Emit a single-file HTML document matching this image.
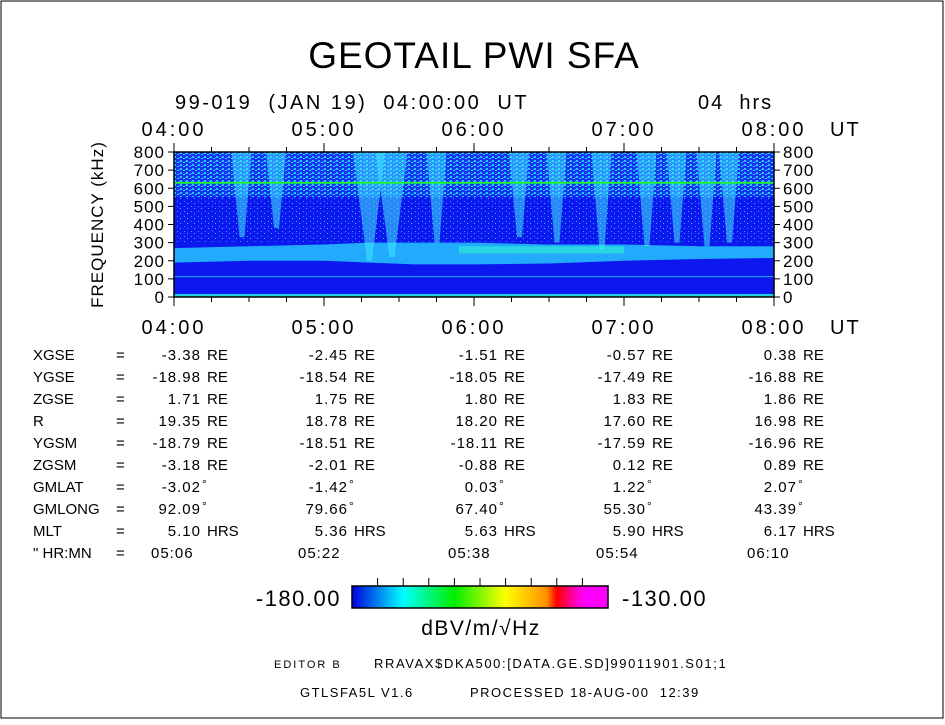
<!DOCTYPE html>
<html><head><meta charset="utf-8"><style>
body{margin:0;background:#fff}
svg text{font-family:"Liberation Sans",sans-serif;fill:#000}
</style></head><body>
<svg width="945" height="720">
<rect x="1" y="1" width="942" height="717" fill="#fff" stroke="#000"/>
<text x="474" y="68" font-size="37" text-anchor="middle" letter-spacing="1">GEOTAIL  PWI  SFA</text>
<text x="175" y="109" font-size="20" letter-spacing="2.5" xml:space="preserve">99-019  (JAN 19)  04:00:00  UT</text>
<text x="698" y="109" font-size="20" letter-spacing="2" xml:space="preserve">04  hrs</text>
<defs>
<pattern id="speck" width="6" height="4" patternUnits="userSpaceOnUse">
<rect width="6" height="4" fill="#1630f4"/><rect x="0" y="0" width="2" height="2" fill="#20c8ff"/><rect x="3" y="2" width="2" height="1" fill="#18e0ff"/><rect x="5" y="1" width="1" height="1" fill="#40a0ff"/>
</pattern>
<pattern id="speck2" width="7" height="5" patternUnits="userSpaceOnUse">
<rect width="7" height="5" fill="#0c18ee"/><rect x="2" y="1" width="1" height="1" fill="#20a0ff"/><rect x="5" y="3" width="1" height="1" fill="#20c0ff"/>
</pattern>
<linearGradient id="cbar" x1="0" x2="1">
<stop offset="0" stop-color="#0000e0"/><stop offset="0.2" stop-color="#00ffff"/><stop offset="0.4" stop-color="#00ee00"/><stop offset="0.6" stop-color="#ffff00"/><stop offset="0.76" stop-color="#ff9000"/><stop offset="0.8" stop-color="#ff0000"/><stop offset="0.88" stop-color="#ff00cc"/><stop offset="0.92" stop-color="#ff00ff"/><stop offset="1" stop-color="#ff00ff"/>
</linearGradient>
</defs>
<g id="spec"></g>
<g id="axes"></g>
<g id="table"></g>
<g>
<rect x="352" y="586" width="256" height="22" fill="url(#cbar)" stroke="#000" stroke-width="1.5"/>
<g id="cticks"></g>
<text x="341" y="606" font-size="22" text-anchor="end" letter-spacing="1.5">-180.00</text>
<text x="622" y="606" font-size="22" letter-spacing="1.5">-130.00</text>
<text x="481" y="635" font-size="21" text-anchor="middle" letter-spacing="1.5">dBV/m/√Hz</text>
</g>
<text x="274" y="668" font-size="11" letter-spacing="2">EDITOR B</text>
<text x="374" y="668" font-size="13" letter-spacing="1.6">RRAVAX$DKA500:[DATA.GE.SD]99011901.S01;1</text>
<text x="300" y="697" font-size="13" letter-spacing="1.5">GTLSFA5L V1.6</text>
<text x="470" y="697" font-size="13" letter-spacing="1.5" xml:space="preserve">PROCESSED 18-AUG-00  12:39</text>
</svg>
<script>
const NS="http://www.w3.org/2000/svg";
// data
const timeTicks=["04:00","05:00","06:00","07:00","08:00"];
const freqTicks=[0,100,200,300,400,500,600,700,800];
const burstTimes=[0.45,0.68,1.3,1.45,1.75,2.3,2.55,2.85,3.15,3.35,3.55,3.7];
const burstLowFreq=[330,380,200,220,300,330,300,260,280,300,280,300];
const bandTimes=[0,0.5,1.0,1.3,1.6,2.0,2.5,3.0,3.5,4.0];
const bandLow=[190,200,200,190,180,180,185,200,210,215];
const bandHigh=[270,280,290,300,300,300,290,290,280,280];
const lineFreq=630;
const rowLabels=["XGSE","YGSE","ZGSE","R","YGSM","ZGSM","GMLAT","GMLONG","MLT","\" HR:MN"];
const rowUnits=["RE","RE","RE","RE","RE","RE","°","°","HRS",""];
const rowValues=[
["-3.38","-2.45","-1.51","-0.57","0.38"],
["-18.98","-18.54","-18.05","-17.49","-16.88"],
["1.71","1.75","1.80","1.83","1.86"],
["19.35","18.78","18.20","17.60","16.98"],
["-18.79","-18.51","-18.11","-17.59","-16.96"],
["-3.18","-2.01","-0.88","0.12","0.89"],
["-3.02","-1.42","0.03","1.22","2.07"],
["92.09","79.66","67.40","55.30","43.39"],
["5.10","5.36","5.63","5.90","6.17"],
["05:06","05:22","05:38","05:54","06:10"]];
const X0=174,X1=774,Y0=297,Y1=152;
const xs=t=>X0+(X1-X0)*t/4;
const ys=f=>Y0+(Y1-Y0)*f/800;
function el(tag,attrs,parent){const e=document.createElementNS(NS,tag);for(const k in attrs)e.setAttribute(k,attrs[k]);parent.appendChild(e);return e;}
const spec=document.getElementById('spec');
let r=el('rect',{x:X0,y:Y1,width:X1-X0,height:Y0-Y1,fill:'#0c18ee'},spec);


r=el('rect',{x:X0,y:ys(800),width:X1-X0,height:ys(550)-ys(800),fill:'url(#speck)'},spec);


r=el('rect',{x:X0,y:ys(550),width:X1-X0,height:ys(300)-ys(550),fill:'url(#speck2)'},spec);


let pts=bandTimes.map((t,i)=>xs(t)+','+ys(bandHigh[i])).join(' ')+' '+bandTimes.slice().reverse().map((t,i)=>xs(t)+','+ys(bandLow[bandTimes.length-1-i])).join(' ');
let b=el('polygon',{points:pts,fill:'#28d0ff',opacity:0.8},spec);


let g=el('rect',{x:xs(1.9),y:ys(280),width:xs(3.0)-xs(1.9),height:ys(240)-ys(280),fill:'#30ffc8',opacity:0.5},spec);


burstTimes.forEach((t,i)=>{
 const x=xs(t),w=t>1.2&&t<1.5?16:10;
 const p=el('polygon',{points:`${x-w},${ys(800)} ${x+w},${ys(800)} ${x+3},${ys(burstLowFreq[i])} ${x-2},${ys(burstLowFreq[i])}`,fill:'#40e8ff',opacity:0.55},spec);
 
 
});
let hl=el('rect',{x:X0,y:ys(lineFreq)-1,width:X1-X0,height:2,fill:'#20f040'},spec);


let l1=el('rect',{x:X0,y:ys(115),width:X1-X0,height:1,fill:'#20b0ff'},spec);


let bt=el('rect',{x:X0,y:Y0-3,width:X1-X0,height:3,fill:'#20d0e0'},spec);


const ax=document.getElementById('axes');
el('rect',{x:X0,y:Y1,width:X1-X0,height:Y0-Y1,fill:'none',stroke:'#000','stroke-width':1.5},ax);
for(let k=0;k<=16;k++){const x=xs(k/4),len=k%4==0?9:5;
 el('line',{x1:x,x2:x,y1:Y1,y2:Y1-len,stroke:'#000'},ax);
 el('line',{x1:x,x2:x,y1:Y0,y2:Y0+len,stroke:'#000'},ax);}
timeTicks.forEach((s,i)=>{
 let t=el('text',{x:xs(i),y:136,'font-size':20,'text-anchor':'middle','letter-spacing':3},ax);t.textContent=s;
 
 
 t=el('text',{x:xs(i),y:334,'font-size':20,'text-anchor':'middle','letter-spacing':3},ax);t.textContent=s;
 
 
});
let u=el('text',{x:830,y:136,'font-size':20,'letter-spacing':2},ax);u.textContent='UT';


u=el('text',{x:830,y:334,'font-size':20,'letter-spacing':2},ax);u.textContent='UT';


freqTicks.forEach(f=>{const y=ys(f);
 el('line',{x1:X0,x2:X0-6,y1:y,y2:y,stroke:'#000'},ax);
 el('line',{x1:X1,x2:X1+6,y1:y,y2:y,stroke:'#000'},ax);
 let t=el('text',{x:X0-9,y:y+6,'font-size':17,'text-anchor':'end','letter-spacing':1},ax);t.textContent=f;
 
 
 t=el('text',{x:X1+9,y:y+6,'font-size':17,'letter-spacing':1},ax);t.textContent=f;
 
 
});
let yt=el('text',{x:0,y:0,'font-size':17,'text-anchor':'middle','letter-spacing':1,transform:`translate(103,${(Y0+Y1)/2}) rotate(-90)`},ax);yt.textContent='FREQUENCY  (kHz)';


const ct=document.getElementById('cticks');
for(let k=1;k<10;k++){const x=352+256*k/10;el('line',{x1:x,x2:x,y1:586,y2:578,stroke:'#000'},ct);}
const tb=document.getElementById('table');
const colR=[201,348,498,646,797];
rowLabels.forEach((lab,i)=>{const y=360+i*22;
 let t=el('text',{x:33,y:y,'font-size':15},tb);t.textContent=lab;
 
 
 t=el('text',{x:116,y:y,'font-size':15},tb);t.textContent='=';
 
 
 rowValues[i].forEach((v,j)=>{
  const isTime=i==9;
  const tx=el('text',{x:isTime?colR[j]-50:colR[j],y:y,'font-size':15,'text-anchor':isTime?'start':'end','letter-spacing':1},tb);
  tx.textContent=v;
  
  
  if(rowUnits[i]){const un=el('text',{x:colR[j]+(rowUnits[i]=='°'?1:6),y:rowUnits[i]=='°'?y-4:y,'font-size':rowUnits[i]=='°'?12:15},tb);un.textContent=rowUnits[i];
   
   }
 });
});
</script>
</body></html>
